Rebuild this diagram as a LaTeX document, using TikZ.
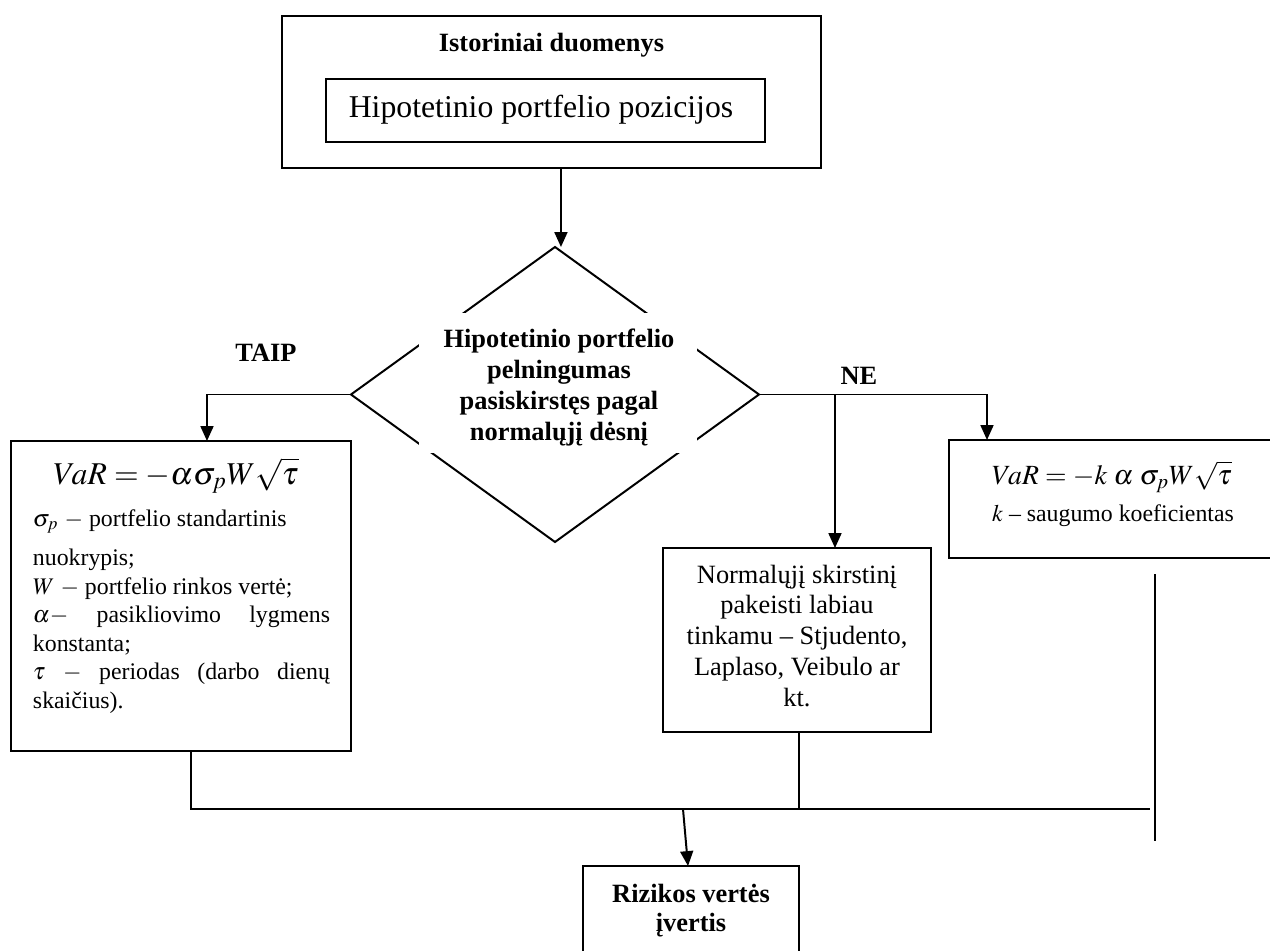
\documentclass[tikz,border=0pt]{standalone}
\usepackage{mathptmx}
\usepackage[no-math]{fontspec}
\setmainfont{Liberation Serif}
\usetikzlibrary{arrows.meta,shapes.geometric}

% one drawing unit = 0.504pt
\newcommand{\pxu}{0.504pt}

\begin{document}
\begin{tikzpicture}[x=0.504pt,y=-0.504pt,
  line width=1pt,
  frame/.style={draw, rectangle, inner sep=0pt, outer sep=0pt, anchor=north west},
  arr/.style={-{Triangle[length=7.5pt,width=6.5pt]}},
  boldtxt/.style={inner sep=0pt, anchor=base, font=\fontsize{13.3}{15.5}\selectfont\bfseries},
  plaintxt/.style={inner sep=0pt, anchor=base, font=\fontsize{13.3}{15.5}\selectfont},
  bodytxt/.style={inner sep=0pt, anchor=base, font=\fontsize{12}{14.4}\selectfont},
]
\useasboundingbox (0,0) rectangle (1270,951);
\clip (0,0) rectangle (1270,951);

% ---- historical data block
\node[frame, minimum width=539*\pxu, minimum height=152*\pxu] (top) at (282,16) {};
\node[frame, minimum width=439*\pxu, minimum height=63*\pxu] (pos) at (326,79) {};
\node[boldtxt] (title) at (551.5,52) {Istoriniai duomenys};
\node[inner sep=0pt, anchor=base, font=\fontsize{16}{19}\selectfont] (posTxt) at (541,118) {Hipotetinio portfelio pozicijos};

% ---- decision
\node[draw, diamond, inner sep=0pt, outer sep=0pt,
      minimum width=408*\pxu, minimum height=295*\pxu] (dia) at (555,394.5) {};
\node[fill=white, inner sep=0pt, minimum width=278*\pxu, minimum height=140*\pxu] (qMask) at (558,383) {};
\node[boldtxt, font=\fontsize{13.3}{15.6}\selectfont\bfseries] (qTxt) at (559,348)
  {\parbox[t]{140pt}{\centering Hipotetinio portfelio\\ pelningumas\\ pasiskirstęs pagal\\ normalųjį dėsnį}};

\node[boldtxt] (yes) at (266,361) {TAIP};
\node[boldtxt] (no) at (859,384) {NE};

% ---- normal case
\node[frame, minimum width=340*\pxu, minimum height=310*\pxu] (left) at (11,441) {};
\node[inner sep=0pt, anchor=base, font=\fontsize{16}{19}\selectfont] (varL) at (176,484)
  {$VaR = -\alpha\sigma_{p}W\sqrt{\tau}$};
\node[bodytxt, anchor=base west] (defsL) at (32,526)
  {\parbox[t]{149.7pt}{%
    $\sigma_{p}$ $-$ portfelio standartinis\\[5.5pt]
    nuokrypis;\\
    $W$ $-$ portfelio rinkos vertė;\\
    \makebox[\linewidth][s]{$\alpha-$ pasikliovimo lygmens}\\
    konstanta;\\
    \makebox[\linewidth][s]{$\tau$ $-$ periodas (darbo dienų}\\
    skaičius).}};

% ---- other distribution
\node[frame, minimum width=268*\pxu, minimum height=184*\pxu] (mid) at (663,548) {};
\node[plaintxt] (altTxt) at (797,583)
  {\parbox[t]{130pt}{\centering Normalųjį skirstinį\\ pakeisti labiau\\ tinkamu – Stjudento,\\ Laplaso, Veibulo ar\\ kt.}};

% ---- safety factor
\node[frame, minimum width=328*\pxu, minimum height=118*\pxu] (right) at (949,440) {};
\node[inner sep=0pt, anchor=base, font=\fontsize{14}{17}\selectfont] (varR) at (1112,484)
  {$VaR = -k\;\alpha\;\sigma_{p}W\sqrt{\tau}$};
\node[bodytxt] (kTxt) at (1113,521) {$k$ – saugumo koeficientas};

% ---- result
\node[frame, minimum width=216*\pxu, minimum height=90*\pxu] (res) at (583,866) {};
\node[boldtxt, font=\fontsize{13.3}{15.1}\selectfont\bfseries] (resTxt) at (691,902)
  {\parbox[t]{110pt}{\centering Rizikos vertės\\ įvertis}};

% ---- connectors
\draw[arr] ([xshift=3pt]dia.north |- top.south) -- ([xshift=3pt]dia.north);
\draw[arr] (dia.west) -| ([xshift=13.1pt]left.north);
\draw[arr] (dia.east) -| ([xshift=-63.5pt]right.north);
\draw[arr] ([xshift=19.15pt]mid.north |- dia.east) -- ([xshift=19.15pt]mid.north);

\coordinate (busEnd) at (1150,809);
\draw ([xshift=5pt]left.south) |- (busEnd);
\draw ([xshift=1pt]mid.south) -- ([xshift=1pt]mid.south |- busEnd);

\coordinate (sideTop) at (1155,574);
\coordinate (sideBot) at (1155,841);
\draw (sideTop) -- (sideBot);

\coordinate (dropStart) at (683,809);
\draw[arr] (dropStart) -- ([xshift=-1.5pt]res.north);
\end{tikzpicture}
\end{document}
